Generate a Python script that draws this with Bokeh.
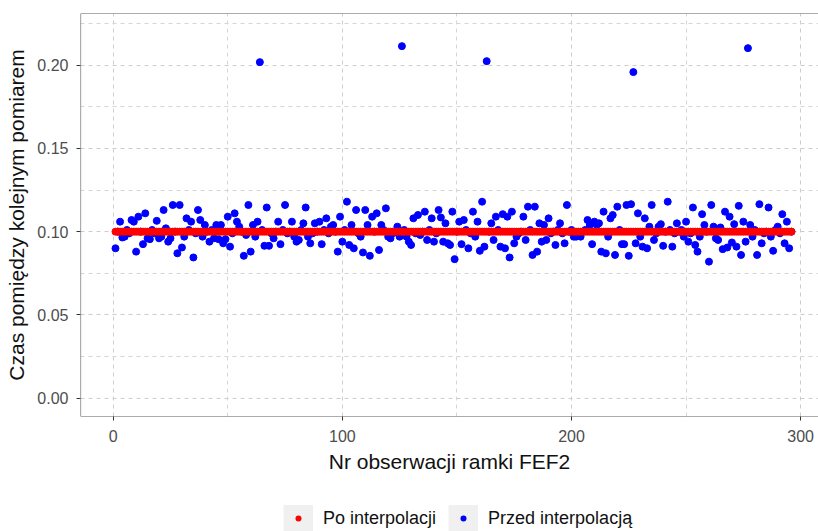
from bokeh.plotting import figure
from bokeh.layouts import column
from bokeh.models import (Range1d, FixedTicker, NumeralTickFormatter, Legend,
                          LegendItem, Span)
from bokeh.embed import file_html
from bokeh.resources import INLINE

# ---- data ----
obs = list(range(1, 297))
przed = [
    0.090, 0.100, 0.106, 0.0965, 0.097, 0.101, 0.099, 0.107, 0.106, 0.088,
    0.109, 0.100, 0.0925, 0.111, 0.096, 0.0955, 0.101, 0.099, 0.1065, 0.096,
    0.097, 0.113, 0.102, 0.094, 0.096, 0.116, 0.100, 0.087, 0.116, 0.0905,
    0.097, 0.108, 0.101, 0.106, 0.0845, 0.099, 0.113, 0.107, 0.097, 0.104,
    0.100, 0.094, 0.101, 0.096, 0.104, 0.0955, 0.104, 0.093, 0.0955, 0.109,
    0.091, 0.099, 0.111, 0.106, 0.103, 0.100, 0.0855, 0.098, 0.116, 0.088,
    0.104, 0.097, 0.106, 0.2018, 0.101, 0.0915, 0.1145, 0.0915, 0.099, 0.096,
    0.100, 0.106, 0.0925, 0.101, 0.116, 0.099, 0.100, 0.106, 0.097, 0.094,
    0.095, 0.101, 0.105, 0.1145, 0.097, 0.093, 0.099, 0.105, 0.100, 0.106,
    0.0925, 0.101, 0.108, 0.099, 0.103, 0.104, 0.100, 0.088, 0.109, 0.094,
    0.101, 0.118, 0.092, 0.104, 0.090, 0.113, 0.099, 0.097, 0.0875, 0.113,
    0.104, 0.0855, 0.109, 0.100, 0.111, 0.089, 0.104, 0.101, 0.114, 0.097,
    0.096, 0.099, 0.100, 0.103, 0.097, 0.2114, 0.101, 0.097, 0.094, 0.092,
    0.108, 0.099, 0.110, 0.098, 0.100, 0.112, 0.095, 0.101, 0.108, 0.094,
    0.099, 0.113, 0.1085, 0.094, 0.105, 0.093, 0.092, 0.112, 0.0835, 0.100,
    0.106, 0.0925, 0.107, 0.101, 0.090, 0.099, 0.112, 0.097, 0.106, 0.0885,
    0.118, 0.091, 0.2024, 0.100, 0.105, 0.095, 0.109, 0.101, 0.091, 0.1105,
    0.090, 0.109, 0.0845, 0.112, 0.093, 0.097, 0.099, 0.100, 0.109, 0.095,
    0.115, 0.101, 0.086, 0.115, 0.088, 0.105, 0.094, 0.104, 0.095, 0.108,
    0.099, 0.100, 0.092, 0.101, 0.105, 0.099, 0.093, 0.116, 0.100, 0.101,
    0.097, 0.097, 0.099, 0.097, 0.100, 0.101, 0.107, 0.104, 0.0925, 0.106,
    0.104, 0.105, 0.088, 0.112, 0.087, 0.097, 0.108, 0.110, 0.086, 0.115,
    0.101, 0.0925, 0.0925, 0.116, 0.0855, 0.1165, 0.1958, 0.093, 0.111, 0.097,
    0.091, 0.108, 0.090, 0.103, 0.116, 0.095, 0.099, 0.103, 0.1045, 0.0915,
    0.100, 0.118, 0.101, 0.091, 0.099, 0.105, 0.100, 0.101, 0.097, 0.106,
    0.094, 0.099, 0.1145, 0.092, 0.088, 0.097, 0.1105, 0.104, 0.100, 0.082,
    0.116, 0.103, 0.096, 0.095, 0.1025, 0.0895, 0.112, 0.0905, 0.109, 0.0935,
    0.1045, 0.091, 0.1155, 0.086, 0.106, 0.094, 0.2102, 0.104, 0.097, 0.101,
    0.086, 0.1165, 0.093, 0.099, 0.100, 0.1145, 0.097, 0.0885, 0.101, 0.103,
    0.099, 0.1105, 0.093, 0.106, 0.090, 0.100,
]
po = [0.1] * len(obs)

x_ticks = [0, 100, 200, 300]
x_minor = [50, 150, 250]
y_ticks = [0.0, 0.05, 0.10, 0.15, 0.20]
y_minor = [0.025, 0.075, 0.125, 0.175, 0.225]

label_po = "Po interpolacji"
label_przed = "Przed interpolacją"
x_title = "Nr obserwacji ramki FEF2"
y_title = "Czas pomiędzy kolejnym pomiarem"

FONT = "Liberation Sans"
X0, X1 = -14.27, 307.8
Y0, Y1 = -0.011, 0.231

p = figure(width=818, height=505, output_backend="svg", toolbar_location=None,
           x_range=Range1d(X0, X1), y_range=Range1d(Y0, Y1),
           min_border_left=80, min_border_right=0, min_border_top=13,
           min_border_bottom=89)
p.background_fill_color = "white"
p.border_fill_color = "white"
p.outline_line_color = None

# panel border on left, top, bottom (right side lies beyond the picture)
border_color = "#5A5A5A"
p.add_layout(Span(location=X0, dimension="height", line_color=border_color, line_width=1.2))
p.add_layout(Span(location=Y1, dimension="width", line_color=border_color, line_width=1.2))
p.add_layout(Span(location=Y0, dimension="width", line_color=border_color, line_width=1.2))

p.xaxis.ticker = FixedTicker(ticks=x_ticks, minor_ticks=x_minor)
p.yaxis.ticker = FixedTicker(ticks=y_ticks, minor_ticks=y_minor)
p.yaxis.formatter = NumeralTickFormatter(format="0.00")

for ax in (p.xaxis, p.yaxis):
    ax.axis_line_color = None
    ax.major_tick_line_color = "#333333"
    ax.major_tick_out = 4
    ax.major_tick_in = 0
    ax.minor_tick_out = 0
    ax.minor_tick_in = 0
    ax.major_label_text_font = FONT
    ax.major_label_text_font_size = "16px"
    ax.major_label_text_color = "#4D4D4D"
    ax.axis_label_text_font = FONT
    ax.axis_label_text_font_size = "21px"
    ax.axis_label_text_font_style = "normal"
    ax.axis_label_text_color = "#111111"

p.xaxis.axis_label = x_title
p.yaxis.axis_label = y_title
p.xaxis.major_label_standoff = 9
p.yaxis.major_label_standoff = 8
p.xaxis.axis_label_standoff = 5
p.yaxis.axis_label_standoff = 6

p.grid.grid_line_color = "#CCCCCC"
p.grid.grid_line_dash = "4 4"
p.grid.grid_line_width = 1
p.grid.minor_grid_line_color = "#D6D6D6"
p.grid.minor_grid_line_dash = "4 4"
p.grid.minor_grid_line_width = 1

p.scatter(obs, przed, size=7, color="blue")
p.scatter(obs, po, size=7, color="red")

# ---- legend strip below the chart ----
lg = figure(width=818, height=26, output_backend="svg", toolbar_location=None,
            x_axis_type=None, y_axis_type=None,
            x_range=Range1d(0, 1), y_range=Range1d(0, 1),
            min_border_left=0, min_border_right=0, min_border_top=0,
            min_border_bottom=0)
lg.outline_line_color = None
lg.background_fill_color = "white"
lg.border_fill_color = "white"

# key renderers sit outside the strip's visible range; only their legend glyphs show
off = [-5.0]
bg1 = lg.line(x=off, y=off, line_color="#F0F0F0", line_width=30)
bg2 = lg.line(x=off, y=off, line_color="#F0F0F0", line_width=30)
# small round dot in the middle of each key: a zero-length round-capped dash
k_red = lg.line(x=off, y=off, line_color="red", line_width=6, line_cap="round",
                line_dash="0 100", line_dash_offset=-15)
k_blue = lg.line(x=off, y=off, line_color="blue", line_width=6, line_cap="round",
                 line_dash="0 100", line_dash_offset=-15)

legend = Legend(items=[LegendItem(label=label_po, renderers=[bg1, k_red]),
                       LegendItem(label=label_przed, renderers=[bg2, k_blue])],
                orientation="horizontal", location=(203, 0),
                glyph_width=30, glyph_height=26, label_standoff=10, spacing=12,
                padding=0, margin=0, background_fill_alpha=0,
                border_line_color=None, label_text_font=FONT,
                label_text_font_size="18px", label_text_color="#111111")
lg.add_layout(legend, "center")

open("out.html", "w").write(file_html(column(p, lg), INLINE))
